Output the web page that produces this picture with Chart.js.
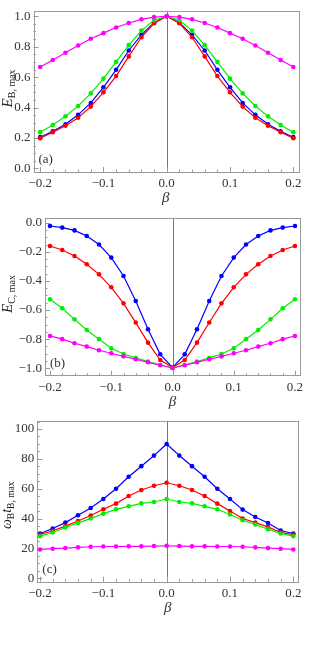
<!DOCTYPE html>
<html>
<head>
<meta charset="utf-8">
<script src="https://cdn.jsdelivr.net/npm/chart.js@4.4.1/dist/chart.umd.min.js"></script>
<style>
  body { margin: 0; background: #fff; }
  canvas { position: absolute; left: 0; }
</style>
</head>
<body>
<canvas id="chartA" width="318" height="205" style="top:0"></canvas>
<canvas id="chartB" width="318" height="205" style="top:205px"></canvas>
<canvas id="chartC" width="318" height="205" style="top:410px"></canvas>
<script>
// valores de beta (eje x, comun a los tres paneles)
const betas = [-0.2, -0.18, -0.16, -0.14, -0.12, -0.1, -0.08, -0.06, -0.04, -0.02, 0,
	0.02, 0.04, 0.06, 0.08, 0.1, 0.12, 0.14, 0.16, 0.18, 0.2]
const xTicks = [-0.2, -0.1, 0, 0.1, 0.2]

// panel (a): E_B,max
const ebBlue = [0.205, 0.243, 0.29, 0.352, 0.43, 0.533, 0.648, 0.775, 0.878, 0.958, 1.0,
	0.958, 0.878, 0.775, 0.648, 0.533, 0.43, 0.352, 0.29, 0.243, 0.205]
const ebRed = [0.198, 0.237, 0.28, 0.333, 0.406, 0.5, 0.607, 0.736, 0.862, 0.954, 1.0,
	0.954, 0.862, 0.736, 0.607, 0.5, 0.406, 0.333, 0.28, 0.237, 0.198]
const ebGreen = [0.238, 0.285, 0.342, 0.41, 0.493, 0.59, 0.7, 0.81, 0.906, 0.975, 1.0,
	0.975, 0.906, 0.81, 0.7, 0.59, 0.493, 0.41, 0.342, 0.285, 0.238]
const ebMagenta = [0.666, 0.712, 0.76, 0.808, 0.852, 0.889, 0.926, 0.956, 0.98, 0.995, 1.0,
	0.995, 0.98, 0.956, 0.926, 0.889, 0.852, 0.808, 0.76, 0.712, 0.666]
const yTicksA = [0, 0.2, 0.4, 0.6, 0.8, 1.0]

// panel (b): E_C,max
const ecBlue = [-0.023, -0.034, -0.053, -0.092, -0.15, -0.24, -0.366, -0.538, -0.732, -0.904, -0.995,
	-0.904, -0.732, -0.538, -0.366, -0.24, -0.15, -0.092, -0.053, -0.034, -0.023]
const ecRed = [-0.16, -0.188, -0.229, -0.286, -0.355, -0.444, -0.554, -0.686, -0.824, -0.943, -0.995,
	-0.943, -0.824, -0.686, -0.554, -0.444, -0.355, -0.286, -0.229, -0.188, -0.16]
const ecGreen = [-0.526, -0.588, -0.664, -0.737, -0.8, -0.863, -0.902, -0.929, -0.954, -0.977, -0.998,
	-0.977, -0.954, -0.929, -0.902, -0.863, -0.8, -0.737, -0.664, -0.588, -0.526]
const ecMagenta = [-0.778, -0.8, -0.828, -0.851, -0.876, -0.897, -0.918, -0.938, -0.959, -0.979, -0.998,
	-0.979, -0.959, -0.938, -0.918, -0.897, -0.876, -0.851, -0.828, -0.8, -0.778]
const yTicksB = [-1.0, -0.8, -0.6, -0.4, -0.2, 0]

// panel (c): omega_B t_B,max
const wtBlue = [30, 33.3, 37.3, 42.2, 47.1, 53.1, 60, 68, 75.1, 82.2, 90,
	82.2, 75.1, 68, 60, 53.1, 46, 41, 37, 32, 30]
const wtRed = [29.3, 31.8, 34.9, 38.4, 42, 46.2, 50, 55.1, 59.1, 62, 64,
	62, 59.1, 55.1, 50, 45, 40, 37.3, 34.4, 30.7, 29.3]
const wtGreen = [28.2, 30.7, 34, 37.1, 40, 43.3, 46.2, 48.2, 50.2, 51.1, 53.1,
	51.1, 50.2, 48.2, 46.2, 42.7, 38.9, 36, 32.9, 30, 28.2]
const wtMagenta = [19.3, 19.8, 20.2, 20.7, 21.1, 21.3, 21.3, 21.4, 21.4, 21.6, 21.8,
	21.6, 21.4, 21.4, 21.3, 21.3, 21.1, 20.7, 20.2, 19.8, 19.3]
const yTicksC = [0, 20, 40, 60, 80, 100]

const BLUE = '#0000ff'
const RED = '#ff0000'
const GREEN = '#00ee00'
const MAGENTA = '#ff00ff'
const SERIF = '"Liberation Serif", "DejaVu Serif", serif'

function fmt(v, dec) {
	return v.toFixed(dec).replace('-', '\u2212')
}

// dibuja texto rotado con subindices: partes [texto, tamaño, italica, desplazamiento]
function drawYTitle(ctx, x, yc, parts) {
	ctx.save()
	let total = 0
	parts.forEach((p) => {
		ctx.font = (p[2] ? 'italic ' : '') + p[1] + 'px ' + SERIF
		p.w = ctx.measureText(p[0]).width
		total += p.w
	})
	ctx.translate(x, yc)
	ctx.rotate(-Math.PI / 2)
	ctx.fillStyle = '#222'
	ctx.textBaseline = 'alphabetic'
	let pos = -total / 2
	parts.forEach((p) => {
		ctx.font = (p[2] ? 'italic ' : '') + p[1] + 'px ' + SERIF
		ctx.fillText(p[0], pos, p[3])
		pos += p.w
	})
	ctx.restore()
}

function makePanel(id, opt) {
	const series = [
		{ data: opt.data[3], color: MAGENTA },
		{ data: opt.data[2], color: GREEN },
		{ data: opt.data[1], color: RED },
		{ data: opt.data[0], color: BLUE },
	]

	const framePlugin = {
		id: 'frame' + id,
		beforeDatasetsDraw(chart) {
			const ctx = chart.ctx
			const a = chart.chartArea
			const xs = chart.scales.x
			const ys = chart.scales.y
			ctx.save()
			// linea vertical en beta = 0
			ctx.strokeStyle = '#777'
			ctx.lineWidth = 1
			const x0 = Math.round(xs.getPixelForValue(0)) + 0.5
			ctx.beginPath()
			ctx.moveTo(x0, a.top)
			ctx.lineTo(x0, a.bottom)
			ctx.stroke()
			// marcas hacia adentro
			ctx.strokeStyle = '#999'
			ctx.beginPath()
			for (let v = opt.yMinorStart; v <= opt.yMax + 1e-9; v += opt.yMinor) {
				const y = Math.round(ys.getPixelForValue(v)) + 0.5
				if (y < a.top || y > a.bottom) continue
				const major = opt.yTicks.some((t) => Math.abs(t - v) < 1e-6)
				ctx.moveTo(a.left, y)
				ctx.lineTo(a.left + (major ? 5 : 2.5), y)
			}
			for (let v = -0.2; v <= 0.2 + 1e-9; v += 0.02) {
				const x = Math.round(xs.getPixelForValue(v)) + 0.5
				const major = xTicks.some((t) => Math.abs(t - v) < 1e-6)
				ctx.moveTo(x, a.bottom)
				ctx.lineTo(x, a.bottom - (major ? 5 : 2.5))
			}
			ctx.stroke()
			// marco
			ctx.strokeStyle = '#9a9a9a'
			ctx.strokeRect(Math.round(a.left) + 0.5, Math.round(a.top) + 0.5,
				Math.round(a.right - a.left), Math.round(a.bottom - a.top))
			ctx.restore()
		},
		afterDraw(chart) {
			const ctx = chart.ctx
			const a = chart.chartArea
			ctx.save()
			ctx.fillStyle = '#333'
			ctx.font = '13px ' + SERIF
			ctx.textAlign = 'left'
			ctx.fillText(opt.label, a.left + 5, a.bottom - 9)
			ctx.font = 'italic 15px ' + SERIF
			ctx.textAlign = 'center'
			ctx.fillText('\u03b2', (a.left + a.right) / 2, a.bottom + 30)
			ctx.restore()
			drawYTitle(ctx, opt.titleX, (a.top + a.bottom) / 2 + opt.titleShift, opt.title)
		},
	}

	new Chart(document.getElementById(id), {
		type: 'line',
		data: {
			labels: betas,
			datasets: series.map((s) => ({
				data: betas.map((b, i) => ({ x: b, y: s.data[i] })),
				borderColor: s.color,
				backgroundColor: s.color,
				borderWidth: 1.2,
				pointRadius: 2.3,
				pointBorderWidth: 0,
				tension: 0,
			})),
		},
		options: {
			responsive: false,
			animation: false,
			layout: {
				padding: { top: opt.area[1], right: 318 - opt.area[2], left: 0, bottom: 0 },
			},
			plugins: { legend: { display: false }, tooltip: { enabled: false } },
			scales: {
				x: {
					type: 'linear',
					min: opt.xMin,
					max: opt.xMax,
					grid: { display: false, drawTicks: false },
					border: { display: false },
					afterBuildTicks: (s) => {
						s.ticks = xTicks.map((v) => ({ value: v }))
					},
					afterFit: (s) => {
						s.height = 205 - opt.area[3]
					},
					ticks: {
						padding: 4,
						color: '#333',
						font: { family: SERIF, size: 13 },
						maxRotation: 0,
						autoSkip: false,
						callback: (v) => fmt(v, 1),
					},
				},
				y: {
					min: opt.yMin,
					max: opt.yMax,
					grid: { display: false, drawTicks: false },
					border: { display: false },
					afterBuildTicks: (s) => {
						s.ticks = opt.yTicks.map((v) => ({ value: v }))
					},
					afterFit: (s) => {
						s.width = opt.area[0]
					},
					ticks: {
						padding: 3,
						color: '#333',
						font: { family: SERIF, size: 13 },
						autoSkip: false,
						callback: (v) => fmt(v, opt.dec),
					},
				},
			},
		},
		plugins: [framePlugin],
	})
}

makePanel('chartA', {
	data: [ebBlue, ebRed, ebGreen, ebMagenta],
	yTicks: yTicksA,
	area: [33.5, 10, 298, 172],
	xMin: -0.2105, xMax: 0.2074,
	yMin: -0.024, yMax: 1.036,
	yMinor: 0.05, yMinorStart: 0,
	dec: 1,
	label: '(a)',
	titleX: 12,
	titleShift: -3,
	title: [['E', 15, true, 0], ['B, max', 10, false, 3]],
})

makePanel('chartB', {
	data: [ecBlue, ecRed, ecGreen, ecMagenta],
	yTicks: yTicksB,
	area: [45, 13.3, 300, 170.7],
	xMin: -0.2082, xMax: 0.2082,
	yMin: -1.051, yMax: 0.03,
	yMinor: 0.05, yMinorStart: -1.05,
	dec: 1,
	label: '(b)',
	titleX: 12,
	titleShift: -3,
	title: [['E', 15, true, 0], ['C, max', 10, false, 3]],
})

makePanel('chartC', {
	data: [wtBlue, wtRed, wtGreen, wtMagenta],
	yTicks: yTicksC,
	area: [37.3, 10, 298.3, 171.7],
	xMin: -0.2043, xMax: 0.2079,
	yMin: -2.3, yMax: 105.5,
	yMinor: 5, yMinorStart: 0,
	dec: 0,
	label: '(c)',
	titleX: 11,
	titleShift: 4,
	title: [['\u03c9', 14, true, 0], ['B', 9.5, false, 3], ['t', 14, true, 0], ['B, max', 9.5, false, 3]],
})
</script>
</body>
</html>
